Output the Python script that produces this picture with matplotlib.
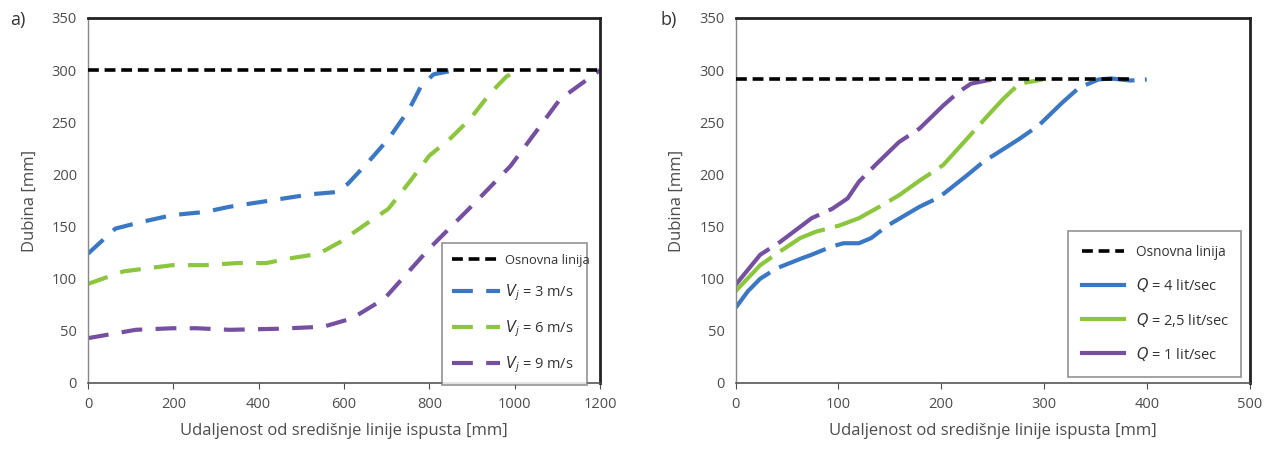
import matplotlib.pyplot as plt
from matplotlib.lines import Line2D

plt.rcParams['font.family'] = ['Open Sans', 'DejaVu Sans']

# panel a) - jet velocity
a_base_x = [0, 1200]
a_base_y = [300, 300]
a_v3_x = [0, 64, 121, 198, 274, 332, 428, 523, 580, 609, 657, 704, 752, 781, 810, 848]
a_v3_y = [124, 148, 154, 161, 164, 169, 175, 181, 183, 191, 212, 234, 262, 285, 296, 299]
a_v6_x = [0, 83, 198, 274, 350, 418, 466, 541, 590, 657, 704, 752, 800, 848, 895, 943, 981, 1006]
a_v6_y = [95, 107, 113, 113, 115, 115, 119, 124, 135, 154, 167, 192, 218, 234, 253, 278, 294, 299]
a_v9_x = [0, 112, 198, 255, 332, 446, 552, 619, 695, 800, 900, 990, 1106, 1200]
a_v9_y = [43, 51, 52.5, 52.5, 51, 52, 54, 62, 81, 129, 170, 208, 272, 300]
a_labels = ['Osnovna linija', '$V_j$ = 3 m/s', '$V_j$ = 6 m/s', '$V_j$ = 9 m/s']

# panel b) - discharge
b_base_x = [0, 384]
b_base_y = [291, 291]
b_q4_x = [0, 12, 24, 40, 63, 74, 94, 105, 120, 132, 148, 179, 198, 225, 241, 276, 295, 318, 334, 353, 365, 384, 400]
b_q4_y = [72, 88, 100, 110, 119, 123, 131, 134, 134, 139, 151, 169, 178, 199, 212, 234, 247, 269, 283, 291, 292, 290, 291]
b_q25_x = [0, 24, 43, 63, 78, 101, 120, 140, 159, 179, 202, 225, 245, 260, 276, 299]
b_q25_y = [88, 113, 126, 139, 145, 151, 158, 169, 180, 194, 209, 234, 256, 272, 287, 291]
b_q1_x = [0, 24, 43, 74, 94, 109, 120, 136, 159, 179, 202, 217, 229, 249]
b_q1_y = [94, 123, 135, 158, 167, 177, 193, 209, 231, 244, 266, 279, 287, 291]
b_labels = ['Osnovna linija', '$Q$ = 4 lit/sec', '$Q$ = 2,5 lit/sec', '$Q$ = 1 lit/sec']

blue = '#3b78c3'
green = '#8cc63f'
purple = '#7650a0'
tick_col = '#4d4d4d'

fig = plt.figure(figsize=(12.66, 4.49), dpi=100)
ax1 = fig.add_axes([0.0695, 0.147, 0.4045, 0.813])
ax2 = fig.add_axes([0.581, 0.147, 0.406, 0.813])


def style(ax, xmax, xstep):
    ax.set_ylim(0, 350)
    ax.set_xlim(0, xmax)
    ax.set_yticks(range(0, 351, 50))
    ax.set_xticks(range(0, xmax + 1, xstep))
    for s in ['top', 'right']:
        ax.spines[s].set_linewidth(2.0)
        ax.spines[s].set_color('#222222')
    ax.spines['left'].set_color('#888888')
    ax.spines['left'].set_linewidth(1.0)
    ax.spines['bottom'].set_color('#555555')
    ax.spines['bottom'].set_linewidth(1.2)
    ax.tick_params(axis='y', length=0, labelsize=10.5, colors=tick_col, pad=8)
    ax.tick_params(axis='x', length=4, labelsize=10.5, colors=tick_col, pad=6)
    ax.set_xlabel('Udaljenost od središnje linije ispusta [mm]', fontsize=12,
                  color=tick_col, labelpad=8)
    ax.set_ylabel('Dubina [mm]', fontsize=12, color=tick_col, labelpad=10)


style(ax1, 1200, 200)
style(ax2, 500, 100)

# panel a
ax1.plot(a_base_x, a_base_y, color='black', lw=2.6, dashes=(3, 1.6), zorder=3,
         label=a_labels[0])
ax1.plot(a_v3_x, a_v3_y, color=blue, lw=3.0, dashes=(5, 3.2), label=a_labels[1])
ax1.plot(a_v6_x, a_v6_y, color=green, lw=3.0, dashes=(5, 3.2), label=a_labels[2])
ax1.plot(a_v9_x, a_v9_y, color=purple, lw=3.0, dashes=(5, 3.2), label=a_labels[3])
leg1 = ax1.legend(loc='lower left', bbox_to_anchor=(0.691, -0.005, 0.284, 0.364),
                  mode='expand', fancybox=False, edgecolor='#777777', fontsize=10.5,
                  handlelength=3.3, labelspacing=1.05, borderpad=0.7,
                  handletextpad=0.3, borderaxespad=0)
for t in leg1.get_texts():
    t.set_color('#333333')
leg1.get_texts()[0].set_fontsize(9.3)
leg1.get_frame().set_linewidth(1.2)

# panel b
ax2.plot(b_base_x, b_base_y, color='black', lw=2.6, dashes=(3, 1.6), zorder=3)
ax2.plot(b_q4_x, b_q4_y, color=blue, lw=3.0, dashes=(12, 2.5))
ax2.plot(b_q25_x, b_q25_y, color=green, lw=3.0, dashes=(12, 2.5))
ax2.plot(b_q1_x, b_q1_y, color=purple, lw=3.0, dashes=(12, 2.5))
handles = [Line2D([], [], color='black', lw=2.6, dashes=(3, 1.6)),
           Line2D([], [], color=blue, lw=3.0),
           Line2D([], [], color=green, lw=3.0),
           Line2D([], [], color=purple, lw=3.0)]
leg2 = ax2.legend(handles, b_labels, loc='lower left',
                  bbox_to_anchor=(0.646, 0.016, 0.338, 0.398), mode='expand',
                  fancybox=False, edgecolor='#777777', fontsize=10.5,
                  handlelength=2.9, labelspacing=1.1, borderpad=1.0,
                  handletextpad=0.8, borderaxespad=0)
for t in leg2.get_texts():
    t.set_color('#333333')
leg2.get_texts()[0].set_fontsize(9.8)
leg2.get_frame().set_linewidth(1.2)

fig.text(0.008, 0.955, 'a)', fontsize=13, color='#333333', va='center')
fig.text(0.522, 0.955, 'b)', fontsize=13, color='#333333', va='center')

fig.savefig('out.png', dpi=100)
